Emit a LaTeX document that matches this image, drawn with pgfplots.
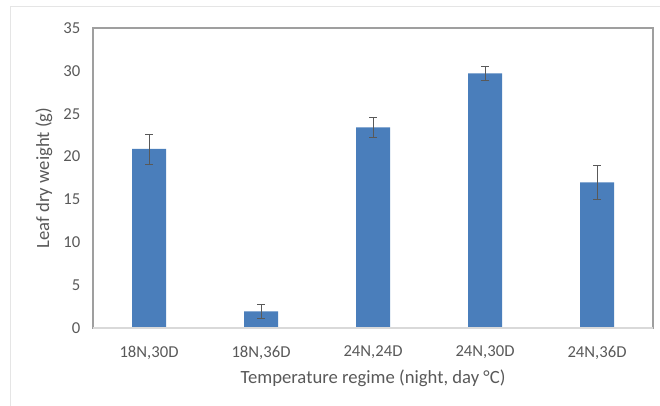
\documentclass[border=0pt]{standalone}
\usepackage{fontspec}
\setmainfont{Carlito}
\usepackage{pgfplots}
\pgfplotsset{compat=1.18}
\definecolor{barblue}{RGB}{74,126,187}
\definecolor{txtgray}{RGB}{89,89,89}
\begin{document}
\begin{tikzpicture}
\begin{axis}[
  scale only axis,
  width=420pt, height=225pt,
  xmin=-0.5, xmax=4.5,
  ymin=0, ymax=35,
  ytick={0,5,...,35},
  xtick={0,1,2,3,4},
  xticklabels={{18N,30D},{18N,36D},{24N,24D},{24N,30D},{24N,36D}},
  major tick length=0pt,
  axis line style={draw=gray!75, line width=0.9pt},
  tick label style={font=\fontsize{12.5}{14}\selectfont, text=txtgray},
  /pgf/number format/assume math mode=true,
  xticklabel style={yshift=-10pt},
  yticklabel style={xshift=-6pt},
  xlabel={Temperature regime (night, day °C)},
  ylabel={Leaf dry weight (g)},
  label style={font=\fontsize{14}{16}\selectfont, text=txtgray},
  xlabel style={at={(rel axis cs:0.5,-0.167)}, anchor=center},
  ylabel style={at={(rel axis cs:-0.0875,0.5)}, anchor=center},
  clip=false,
]
\addplot[ybar, bar width=25.5pt, fill=barblue, draw=none,
  error bars/.cd, y dir=both, y explicit,
  error bar style={draw=gray!70!black, line width=0.5pt},
  error mark options={draw=gray!70!black, line width=0.5pt, mark size=3pt, rotate=90}]
  table[x=x, y=y, y error=e] {
x y e
0 20.9 1.75
1 1.95 0.8
2 23.4 1.2
3 29.7 0.8
4 17.0 2.0
};
\draw[draw=gray!30, line width=0.9pt] (rel axis cs:0,0) -- (rel axis cs:1,0);
\coordinate (bl) at (rel axis cs:-0.1661,-0.26);
\coordinate (tr) at (rel axis cs:1.0125,1.0933);
\coordinate (fl) at (rel axis cs:-0.148,-0.27);
\coordinate (ft) at (rel axis cs:1.03,1.07);
\end{axis}
\draw[draw=gray!20, line width=0.75pt] (fl) -- (fl |- ft) -- (ft);
\pgfresetboundingbox
\path[use as bounding box] (bl) rectangle (tr);
\end{tikzpicture}
\end{document}
